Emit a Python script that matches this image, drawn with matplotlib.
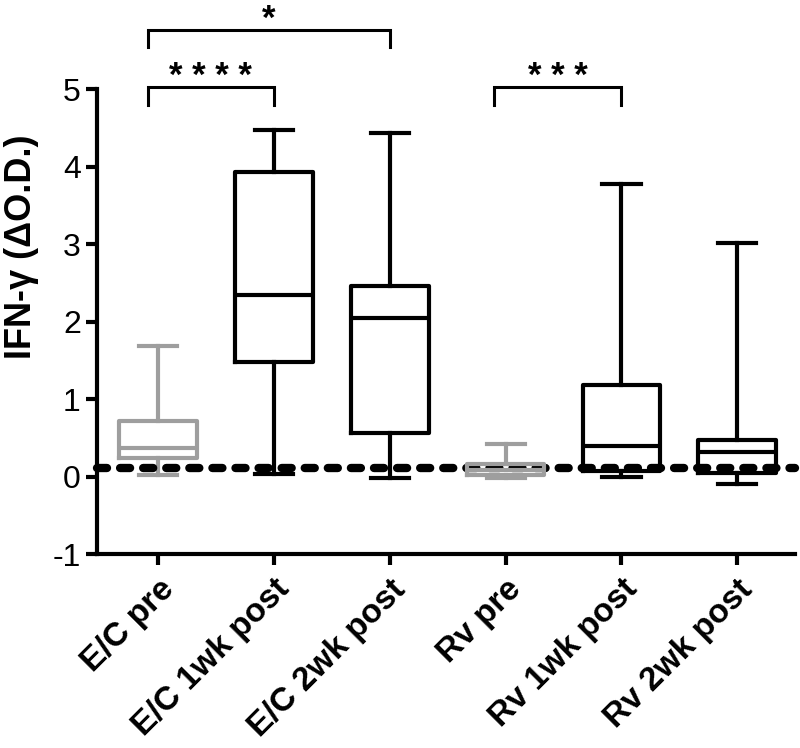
import numpy as np
import matplotlib.pyplot as plt

plt.rcParams['font.family'] = ['Liberation Sans', 'DejaVu Sans']
plt.rcParams['axes.unicode_minus'] = False

groups = ["E/C pre", "E/C 1wk post", "E/C 2wk post", "Rv pre", "Rv 1wk post", "Rv 2wk post"]
whis_lo = [0.02, 0.04, -0.02, -0.02, 0.00, -0.09]
q1 = [0.24, 1.48, 0.57, 0.02, 0.07, 0.05]
med = [0.37, 2.34, 2.05, 0.09, 0.40, 0.32]
q3 = [0.72, 3.93, 2.46, 0.16, 1.18, 0.48]
whis_hi = [1.68, 4.47, 4.43, 0.42, 3.78, 3.01]
colors = ["#9e9e9e", "black", "black", "#9e9e9e", "black", "black"]
cutoff = 0.11

# significance brackets: (left, right, label, height)
sig = [(-0.09, 1.0, "* * * *", 5.02), (-0.09, 2.0, "*", 5.76), (2.9, 4.0, "* * *", 5.02)]

fig = plt.figure(figsize=(8, 7.48), dpi=100)
ax = fig.add_axes([0.121, 0.259, 0.873, 0.622])

x = np.arange(len(groups))
for i in range(len(groups)):
    st = [dict(whislo=whis_lo[i], q1=q1[i], med=med[i], q3=q3[i], whishi=whis_hi[i], fliers=[])]
    c = colors[i]
    z = 4 if i == 3 else 2
    ax.bxp(st, positions=[x[i]], widths=0.67, capwidths=0.33, showfliers=False,
           boxprops=dict(color=c, linewidth=3, zorder=z),
           whiskerprops=dict(color=c, linewidth=3, zorder=z),
           capprops=dict(color=c, linewidth=3, zorder=z),
           medianprops=dict(color=c, linewidth=3, zorder=z))

ax.plot([-0.53, 5.5], [cutoff, cutoff], color="black", linewidth=6,
        dashes=(1.2, 1.57), dash_capstyle="round", zorder=3, clip_on=False)

for l, r, lab, h in sig:
    ax.plot([l, l, r, r], [h - 0.22, h, h, h - 0.22], color="black", linewidth=2.2,
            clip_on=False, solid_joinstyle="miter")
    ax.text((l + r) / 2, h + 0.02, lab, ha="center", va="baseline", fontsize=25,
            fontweight="bold")

ax.set_xlim(-0.53, 5.5)
ax.set_ylim(-1, 5)
ax.set_yticks([-1, 0, 1, 2, 3, 4, 5])
ax.set_xticks(x)
ax.set_xticklabels(groups, rotation=45, ha="right", rotation_mode="anchor",
                   fontsize=24, fontweight="bold")
ax.tick_params(axis="y", labelsize=23, width=3, length=8)
ax.tick_params(axis="x", width=3, length=8, pad=6)
ax.set_ylabel("IFN-γ (ΔO.D.)", fontsize=26, fontweight="bold")
ax.yaxis.set_label_coords(-0.083, 0.66)
for s in ["top", "right"]:
    ax.spines[s].set_visible(False)
for s in ["left", "bottom"]:
    ax.spines[s].set_linewidth(3)

fig.savefig("out.png", dpi=100)
